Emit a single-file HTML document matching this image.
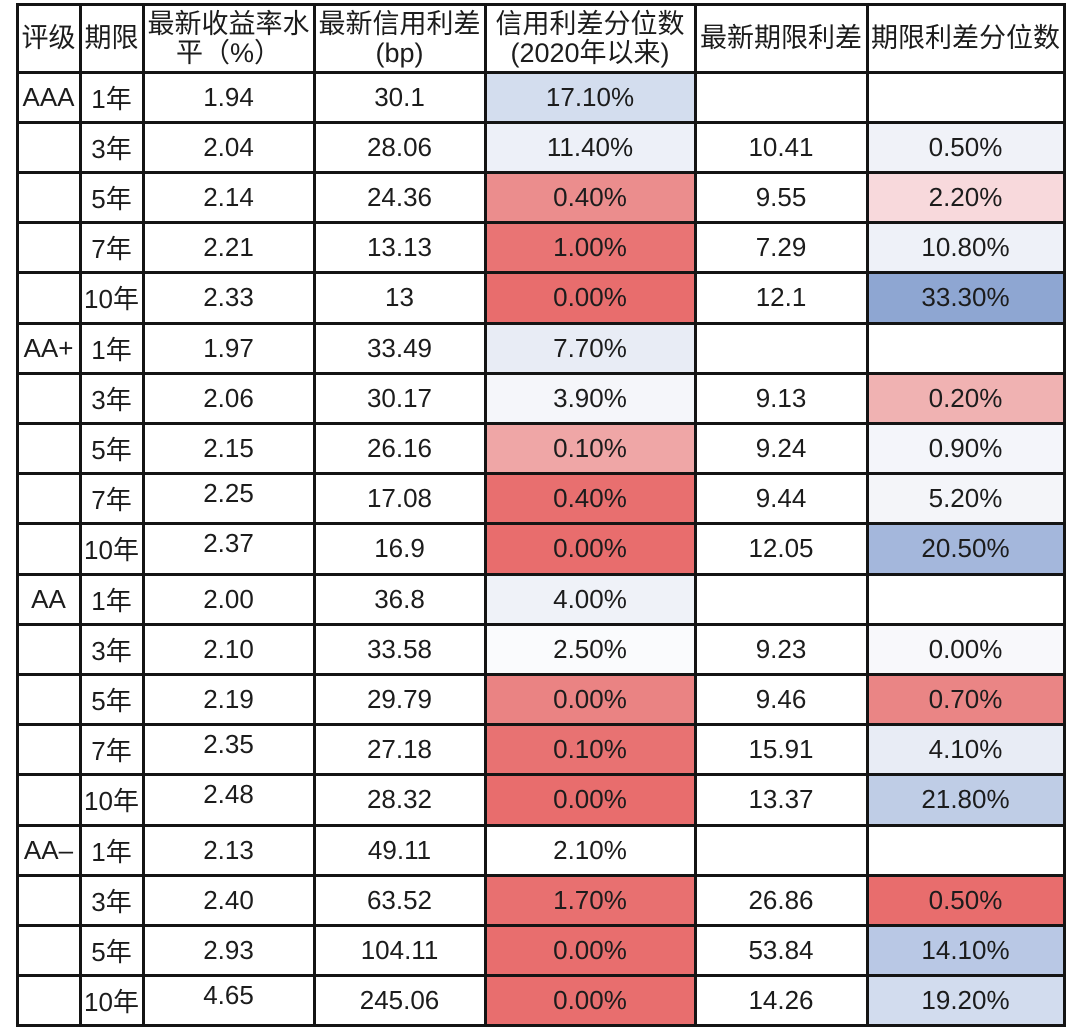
<!DOCTYPE html>
<html><head><meta charset="utf-8">
<style>
html,body{margin:0;padding:0;background:#fff;}
body{width:1080px;height:1033px;position:relative;overflow:hidden;font-family:"Liberation Sans","Noto Sans CJK SC",sans-serif;color:#1c1c1c;}
.row{position:absolute;left:0;width:1080px;height:50.2px;}
.hd{position:absolute;left:0;width:1080px;top:4.5px;height:67.5px;}
.c{position:absolute;top:0;height:100%;display:flex;align-items:center;justify-content:center;font-size:26px;text-align:center;white-space:nowrap;}
.hd .c{font-size:27px;line-height:29px;padding-top:1px;box-sizing:border-box;}
.c1{left:17px;width:63px}
.c2{left:80px;width:63px}
.c3{left:143px;width:171px}
.c4{left:314px;width:171px}
.c5{left:485px;width:210px}
.c6{left:695px;width:172px}
.c7{left:867px;width:197px}
.up{position:relative;top:-5px}
.h{position:absolute;left:15.5px;width:1050px;height:3px;background:#141414;}
.v{position:absolute;top:3px;height:1024.3px;width:3px;background:#141414;}
</style></head><body>

<div class="hd">
<div class="c c1">评级</div>
<div class="c c2">期限</div>
<div class="c c3">最新收益率水<br>平（%）</div>
<div class="c c4">最新信用利差<br>(bp)</div>
<div class="c c5">信用利差分位数<br>(2020年以来)</div>
<div class="c c6">最新期限利差</div>
<div class="c c7">期限利差分位数</div>
</div>

<div class="row" style="top:72px">
<div class="c c1">AAA</div><div class="c c2">1年</div><div class="c c3">1.94</div><div class="c c4">30.1</div>
<div class="c c5" style="background:#d3ddee">17.10%</div><div class="c c6"></div><div class="c c7"></div></div>

<div class="row" style="top:122.2px">
<div class="c c1"></div><div class="c c2">3年</div><div class="c c3">2.04</div><div class="c c4">28.06</div>
<div class="c c5" style="background:#edf0f8">11.40%</div><div class="c c6">10.41</div><div class="c c7" style="background:#f0f2f8">0.50%</div></div>

<div class="row" style="top:172.4px">
<div class="c c1"></div><div class="c c2">5年</div><div class="c c3">2.14</div><div class="c c4">24.36</div>
<div class="c c5" style="background:#eb8d8d">0.40%</div><div class="c c6">9.55</div><div class="c c7" style="background:#f8d9dc">2.20%</div></div>

<div class="row" style="top:222.6px">
<div class="c c1"></div><div class="c c2">7年</div><div class="c c3">2.21</div><div class="c c4">13.13</div>
<div class="c c5" style="background:#e97474">1.00%</div><div class="c c6">7.29</div><div class="c c7" style="background:#eef1f8">10.80%</div></div>

<div class="row" style="top:272.8px">
<div class="c c1"></div><div class="c c2">10年</div><div class="c c3">2.33</div><div class="c c4">13</div>
<div class="c c5" style="background:#e86d6d">0.00%</div><div class="c c6">12.1</div><div class="c c7" style="background:#8ea6d2">33.30%</div></div>

<div class="row" style="top:323px">
<div class="c c1">AA+</div><div class="c c2">1年</div><div class="c c3">1.97</div><div class="c c4">33.49</div>
<div class="c c5" style="background:#e8ecf5">7.70%</div><div class="c c6"></div><div class="c c7"></div></div>

<div class="row" style="top:373.2px">
<div class="c c1"></div><div class="c c2">3年</div><div class="c c3">2.06</div><div class="c c4">30.17</div>
<div class="c c5" style="background:#f5f6fa">3.90%</div><div class="c c6">9.13</div><div class="c c7" style="background:#f0b2b2">0.20%</div></div>

<div class="row" style="top:423.4px">
<div class="c c1"></div><div class="c c2">5年</div><div class="c c3">2.15</div><div class="c c4">26.16</div>
<div class="c c5" style="background:#efa6a6">0.10%</div><div class="c c6">9.24</div><div class="c c7" style="background:#f4f5fa">0.90%</div></div>

<div class="row" style="top:473.6px">
<div class="c c1"></div><div class="c c2">7年</div><div class="c c3"><span class="up">2.25</span></div><div class="c c4">17.08</div>
<div class="c c5" style="background:#e86f6f">0.40%</div><div class="c c6">9.44</div><div class="c c7" style="background:#f4f5f9">5.20%</div></div>

<div class="row" style="top:523.8px">
<div class="c c1"></div><div class="c c2">10年</div><div class="c c3"><span class="up">2.37</span></div><div class="c c4">16.9</div>
<div class="c c5" style="background:#e86d6d">0.00%</div><div class="c c6">12.05</div><div class="c c7" style="background:#a4b7dc">20.50%</div></div>

<div class="row" style="top:574px">
<div class="c c1">AA</div><div class="c c2">1年</div><div class="c c3">2.00</div><div class="c c4">36.8</div>
<div class="c c5" style="background:#eff2f8">4.00%</div><div class="c c6"></div><div class="c c7"></div></div>

<div class="row" style="top:624.2px">
<div class="c c1"></div><div class="c c2">3年</div><div class="c c3">2.10</div><div class="c c4">33.58</div>
<div class="c c5" style="background:#fafbfd">2.50%</div><div class="c c6">9.23</div><div class="c c7" style="background:#f8f8fb">0.00%</div></div>

<div class="row" style="top:674.4px">
<div class="c c1"></div><div class="c c2">5年</div><div class="c c3">2.19</div><div class="c c4">29.79</div>
<div class="c c5" style="background:#ea8383">0.00%</div><div class="c c6">9.46</div><div class="c c7" style="background:#ea8585">0.70%</div></div>

<div class="row" style="top:724.6px">
<div class="c c1"></div><div class="c c2">7年</div><div class="c c3"><span class="up">2.35</span></div><div class="c c4">27.18</div>
<div class="c c5" style="background:#e87272">0.10%</div><div class="c c6">15.91</div><div class="c c7" style="background:#e8ecf5">4.10%</div></div>

<div class="row" style="top:774.8px">
<div class="c c1"></div><div class="c c2">10年</div><div class="c c3"><span class="up">2.48</span></div><div class="c c4">28.32</div>
<div class="c c5" style="background:#e86d6d">0.00%</div><div class="c c6">13.37</div><div class="c c7" style="background:#bfcde6">21.80%</div></div>

<div class="row" style="top:825px">
<div class="c c1">AA&#8211;</div><div class="c c2">1年</div><div class="c c3">2.13</div><div class="c c4">49.11</div>
<div class="c c5" style="background:#ffffff">2.10%</div><div class="c c6"></div><div class="c c7"></div></div>

<div class="row" style="top:875.2px">
<div class="c c1"></div><div class="c c2">3年</div><div class="c c3">2.40</div><div class="c c4">63.52</div>
<div class="c c5" style="background:#e87070">1.70%</div><div class="c c6">26.86</div><div class="c c7" style="background:#e86d6d">0.50%</div></div>

<div class="row" style="top:925.4px">
<div class="c c1"></div><div class="c c2">5年</div><div class="c c3">2.93</div><div class="c c4">104.11</div>
<div class="c c5" style="background:#e86e6e">0.00%</div><div class="c c6">53.84</div><div class="c c7" style="background:#b9c8e5">14.10%</div></div>

<div class="row" style="top:975.6px">
<div class="c c1"></div><div class="c c2">10年</div><div class="c c3"><span class="up">4.65</span></div><div class="c c4">245.06</div>
<div class="c c5" style="background:#e86e6e">0.00%</div><div class="c c6">14.26</div><div class="c c7" style="background:#d2dcee">19.20%</div></div>

<!-- horizontal lines -->
<div class="h" style="top:3px"></div>
<div class="h" style="top:70.5px"></div>
<div class="h" style="top:120.7px"></div>
<div class="h" style="top:170.9px"></div>
<div class="h" style="top:221.1px"></div>
<div class="h" style="top:271.3px"></div>
<div class="h" style="top:321.5px"></div>
<div class="h" style="top:371.7px"></div>
<div class="h" style="top:421.9px"></div>
<div class="h" style="top:472.1px"></div>
<div class="h" style="top:522.3px"></div>
<div class="h" style="top:572.5px"></div>
<div class="h" style="top:622.7px"></div>
<div class="h" style="top:672.9px"></div>
<div class="h" style="top:723.1px"></div>
<div class="h" style="top:773.3px"></div>
<div class="h" style="top:823.5px"></div>
<div class="h" style="top:873.7px"></div>
<div class="h" style="top:923.9px"></div>
<div class="h" style="top:974.1px"></div>
<div class="h" style="top:1024.3px"></div>

<!-- vertical lines -->
<div class="v" style="left:15.5px"></div>
<div class="v" style="left:78.5px"></div>
<div class="v" style="left:141.5px"></div>
<div class="v" style="left:312.5px"></div>
<div class="v" style="left:483.5px"></div>
<div class="v" style="left:693.5px"></div>
<div class="v" style="left:865.5px"></div>
<div class="v" style="left:1062.5px"></div>

</body></html>
